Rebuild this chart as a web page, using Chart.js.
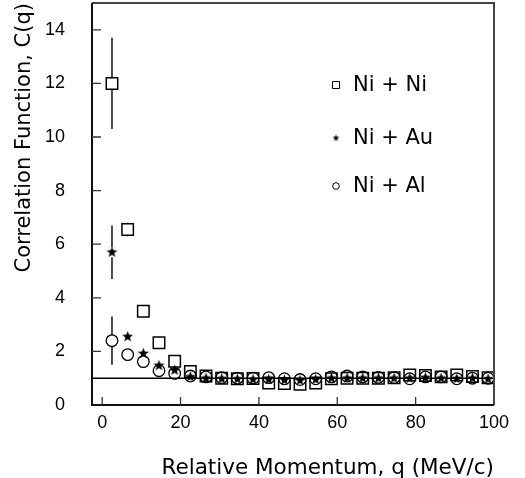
<!DOCTYPE html>
<html><head><meta charset="utf-8">
<script src="https://cdn.jsdelivr.net/npm/chart.js@4.4.0/dist/chart.umd.min.js"></script>
<style>html,body{margin:0;padding:0;background:#fff;}#wrap{width:525px;height:478px;}</style>
</head><body><div id="wrap"><canvas id="c" width="525" height="478"></canvas></div>
<script>
// ---- data ----
const qValues = [2.5, 6.5, 10.5, 14.5, 18.5, 22.5, 26.5, 30.5, 34.5, 38.5, 42.5, 46.5, 50.5, 54.5, 58.5, 62.5, 66.5, 70.5, 74.5, 78.5, 82.5, 86.5, 90.5, 94.5, 98.5];
const niNi    = [12.0, 6.55, 3.5, 2.32, 1.63, 1.25, 1.08, 1.0, 0.98, 0.99, 0.82, 0.8, 0.77, 0.82, 0.98, 1.0, 1.0, 1.0, 1.02, 1.12, 1.1, 1.05, 1.12, 1.06, 1.02];
const niNiErr = [1.7, 0.25, 0.15, 0.1, 0.08, 0.06, 0.05, 0.05, 0.05, 0.05, 0.05, 0.05, 0.05, 0.05, 0.05, 0.05, 0.05, 0.05, 0.05, 0.05, 0.05, 0.05, 0.05, 0.05, 0.05];
const niAu    = [5.7, 2.55, 1.92, 1.47, 1.3, 1.05, 1.0, 0.98, 0.97, 0.95, 0.95, 0.93, 0.92, 0.95, 1.0, 1.0, 1.0, 1.0, 1.0, 1.0, 1.02, 1.0, 0.98, 1.0, 0.97];
const niAuErr = [1.0, 0.15, 0.1, 0.08, 0.06, 0.05, 0.04, 0.04, 0.04, 0.04, 0.04, 0.04, 0.04, 0.04, 0.04, 0.04, 0.04, 0.04, 0.04, 0.04, 0.04, 0.04, 0.04, 0.04, 0.04];
const niAl    = [2.4, 1.88, 1.62, 1.28, 1.18, 1.08, 1.05, 1.02, 1.0, 1.0, 1.02, 0.98, 0.95, 0.98, 1.05, 1.08, 1.05, 1.03, 1.02, 0.98, 1.05, 1.05, 0.98, 1.0, 1.0];
const niAlErr = [0.9, 0.15, 0.1, 0.08, 0.06, 0.05, 0.04, 0.04, 0.04, 0.04, 0.04, 0.04, 0.04, 0.04, 0.04, 0.04, 0.04, 0.04, 0.04, 0.04, 0.04, 0.04, 0.04, 0.04, 0.04];
const seriesLabels = ['Ni + Ni', 'Ni + Au', 'Ni + Al'];
const xTicks = [0, 20, 40, 60, 80, 100];
const yTicks = [0, 2, 4, 6, 8, 10, 12, 14];
const xRange = [-2.6, 100];
const yRange = [0, 15];
const refLevel = 1;
const xTitle = 'Relative Momentum, q (MeV/c)';
const yTitle = 'Correlation Function, C(q)';

function makeStar(size, outer, inner) {
  const c = document.createElement('canvas');
  c.width = c.height = size;
  const g = c.getContext('2d');
  g.fillStyle = '#000';
  g.beginPath();
  for (let i = 0; i < 10; i++) {
    const r = i % 2 ? inner : outer;
    const a = -Math.PI / 2 + i * Math.PI / 5;
    const px = size / 2 + r * Math.cos(a), py = size / 2 + r * Math.sin(a);
    if (i) g.lineTo(px, py); else g.moveTo(px, py);
  }
  g.closePath();
  g.fill();
  return c;
}
const starBig = makeStar(13, 5.8, 2.4);
const starSmall = makeStar(9, 3.6, 1.5);

const toPts = (arr) => arr.map((v, i) => ({x: qValues[i], y: v}));

const errPlugin = {
  id: 'errbars',
  beforeDatasetsDraw(chart) {
    const ctx = chart.ctx, ys = chart.scales.y, xs = chart.scales.x;
    const sets = [[niNi, niNiErr, 5.8], [niAu, niAuErr, 5], [niAl, niAlErr, 5.8]];
    ctx.save();
    ctx.strokeStyle = '#000';
    ctx.lineWidth = 1.4;
    sets.forEach(([vals, errs, half]) => {
      vals.forEach((v, i) => {
        const px = xs.getPixelForValue(qValues[i]);
        const py = ys.getPixelForValue(v);
        const top = ys.getPixelForValue(v + errs[i]);
        const bot = ys.getPixelForValue(v - errs[i]);
        ctx.beginPath();
        if (py - top > half) { ctx.moveTo(px, top); ctx.lineTo(px, py - half); }
        if (bot - py > half) { ctx.moveTo(px, py + half); ctx.lineTo(px, bot); }
        ctx.stroke();
      });
    });
    ctx.restore();
  }
};

const framePlugin = {
  id: 'frame',
  afterDraw(chart) {
    const {ctx, chartArea: a} = chart;
    const xs = chart.scales.x, ys = chart.scales.y;
    ctx.save();
    ctx.lineWidth = 2;
    ctx.strokeStyle = '#444';
    ctx.beginPath();
    ctx.moveTo(a.left, a.top); ctx.lineTo(a.right, a.top); ctx.lineTo(a.right, a.bottom);
    ctx.stroke();
    ctx.strokeStyle = '#111';
    ctx.beginPath();
    ctx.moveTo(a.left, a.top); ctx.lineTo(a.left, a.bottom); ctx.lineTo(a.right, a.bottom);
    ctx.stroke();
    ctx.lineWidth = 1.3;
    ctx.strokeStyle = '#333';
    ctx.beginPath();
    xs.ticks.forEach(t => {
      const px = xs.getPixelForValue(t.value);
      if (px > a.left + 1 && px < a.right - 1) { ctx.moveTo(px, a.bottom); ctx.lineTo(px, a.bottom - 8); }
    });
    ys.ticks.forEach(t => {
      const py = ys.getPixelForValue(t.value);
      if (py > a.top + 1 && py < a.bottom - 1) { ctx.moveTo(a.left, py); ctx.lineTo(a.left + 9, py); }
    });
    ctx.stroke();
    ctx.restore();
  }
};

const legendPlugin = {
  id: 'customLegend',
  afterDraw(chart) {
    const ctx = chart.ctx;
    const o = chart.options.plugins.customLegend;
    const styles = [{pointStyle: 'rect', radius: 5, borderWidth: 1.2}, {pointStyle: starSmall, radius: 4}, {pointStyle: 'circle', radius: 3.3, borderWidth: 1.2}];
    ctx.save();
    ctx.font = o.font;
    ctx.textBaseline = 'middle';
    ctx.textAlign = 'left';
    seriesLabels.forEach((lab, i) => {
      const y = o.rows[i];
      ctx.strokeStyle = '#000';
      ctx.fillStyle = 'rgba(0,0,0,0)';
      Chart.helpers.drawPoint(ctx, Object.assign({rotation: 0}, styles[i]), o.markerX, y);
      ctx.fillStyle = '#000';
      ctx.fillText(lab, o.textX, y + 1);
    });
    ctx.restore();
  }
};

new Chart(document.getElementById('c'), {
  type: 'scatter',
  data: {
    datasets: [
      {label: seriesLabels[0], data: toPts(niNi), pointStyle: 'rect', pointRadius: 8.1, pointBorderWidth: 1.5, borderColor: '#000', backgroundColor: 'rgba(0,0,0,0)'},
      {label: seriesLabels[1], data: toPts(niAu), pointStyle: starBig, pointRadius: 6, borderColor: '#000', backgroundColor: '#000'},
      {label: seriesLabels[2], data: toPts(niAl), pointStyle: 'circle', pointRadius: 5.8, pointBorderWidth: 1.3, borderColor: '#000', backgroundColor: 'rgba(0,0,0,0)'},
      {label: 'level', type: 'line', showLine: true, data: [{x: xRange[0], y: refLevel}, {x: xRange[1], y: refLevel}], pointRadius: 0, borderWidth: 1.5, borderColor: '#000', fill: false}
    ]
  },
  options: {
    responsive: false,
    animation: false,
    devicePixelRatio: 1,
    layout: {autoPadding: false, padding: {top: 3, right: 31, left: 0, bottom: 0}},
    plugins: {
      legend: {display: false},
      tooltip: {enabled: false},
      customLegend: {font: '21px "DejaVu Sans"', markerX: 336, textX: 353, rows: [85, 138, 186]}
    },
    scales: {
      x: {
        type: 'linear', min: xRange[0], max: xRange[1],
        afterBuildTicks: s => { s.ticks = xTicks.map(v => ({value: v})); },
        afterFit: s => { s.height = 73; s.paddingLeft = 0; s.paddingRight = 0; },
        grid: {display: false, drawTicks: true, tickLength: 7}, border: {display: false},
        ticks: {color: '#000', font: {family: 'Liberation Sans', size: 18}, padding: 0, maxRotation: 0},
        title: {display: true, text: xTitle, align: 'end', color: '#000', font: {family: 'DejaVu Sans', size: 21.5}, padding: {top: 8, bottom: -3}}
      },
      y: {
        type: 'linear', min: yRange[0], max: yRange[1],
        afterBuildTicks: s => { s.ticks = yTicks.map(v => ({value: v})); },
        afterFit: s => { s.width = 92; s.paddingTop = 0; s.paddingBottom = 0; },
        grid: {display: false, drawTicks: true, tickLength: 8}, border: {display: false},
        ticks: {color: '#000', font: {family: 'Liberation Sans', size: 18}, padding: 19},
        title: {display: true, text: yTitle, align: 'end', color: '#000', font: {family: 'DejaVu Sans', size: 21}, padding: {top: 12, bottom: 4}}
      }
    }
  },
  plugins: [errPlugin, framePlugin, legendPlugin]
});
</script></body></html>
